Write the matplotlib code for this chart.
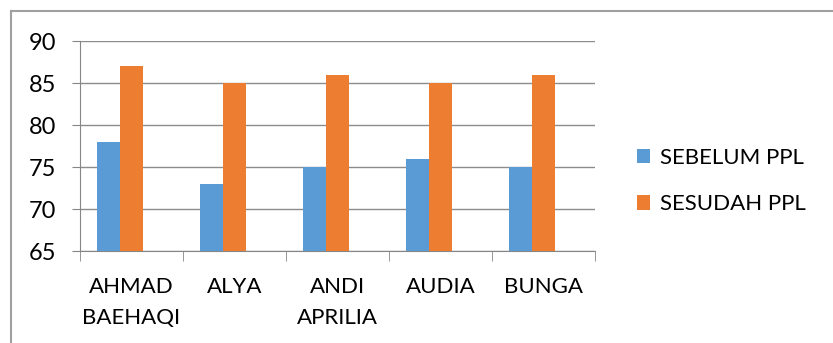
import numpy as np
import matplotlib
matplotlib.use("Agg")
import matplotlib.pyplot as plt
from matplotlib.lines import Line2D

names = ["AHMAD\nBAEHAQI", "ALYA", "ANDI\nAPRILIA", "AUDIA", "BUNGA"]
sebelum = [78, 73, 75, 76, 75]
sesudah = [87, 85, 86, 85, 86]
series_labels = ["SEBELUM PPL", "SESUDAH PPL"]
y_ticks = [65, 70, 75, 80, 85, 90]

plt.rcParams['font.family'] = ['Lato', 'DejaVu Sans']
fs = 16

W, H = 833, 343
fig = plt.figure(figsize=(W / 100, H / 100), dpi=100)
ax = fig.add_axes([80 / W, 1 - 251 / H, (595 - 80) / W, (251 - 41) / H])

x = np.arange(len(names))
w = 0.223
b1 = ax.bar(x - w, sebelum, w, color="#5B9BD5", label=series_labels[0], zorder=3)
b2 = ax.bar(x, sesudah, w, color="#ED7D31", label=series_labels[1], zorder=3)

ax.set_xlim(-0.5, len(names) - 0.5)
ax.set_ylim(65, 90)
ax.set_yticks(y_ticks)
ax.tick_params(axis='y', labelsize=fs + 1, length=6, color="#868686", pad=11)
ax.grid(axis='y', color="#8C8C8C", linewidth=1, zorder=0)

ax.set_xticks(x)
ax.set_xticklabels(names, fontsize=fs, linespacing=1.65)
ax.tick_params(axis='x', length=0, pad=19)
ax.set_xticks(np.arange(len(names) + 1) - 0.5, minor=True)
ax.tick_params(axis='x', which='minor', length=7, color="#868686")

for s in ['top', 'right']:
    ax.spines[s].set_visible(False)
for s in ['left', 'bottom']:
    ax.spines[s].set_color("#868686")

fig.legend(handles=[b1, b2], loc='center left', bbox_to_anchor=(617 / W, 1 - 181 / H),
           frameon=False, fontsize=fs, handlelength=0.6, handleheight=0.6,
           handletextpad=0.45, labelspacing=1.2)

# chart border (only top and left visible in the crop)
fig.add_artist(Line2D([11 / W, 11 / W], [0, 1 - 11 / H], transform=fig.transFigure,
                      color="#A0A0A0", linewidth=1.5))
fig.add_artist(Line2D([11 / W, 1], [1 - 11 / H, 1 - 11 / H], transform=fig.transFigure,
                      color="#A0A0A0", linewidth=1.5))

fig.savefig("out.png", dpi=100)
